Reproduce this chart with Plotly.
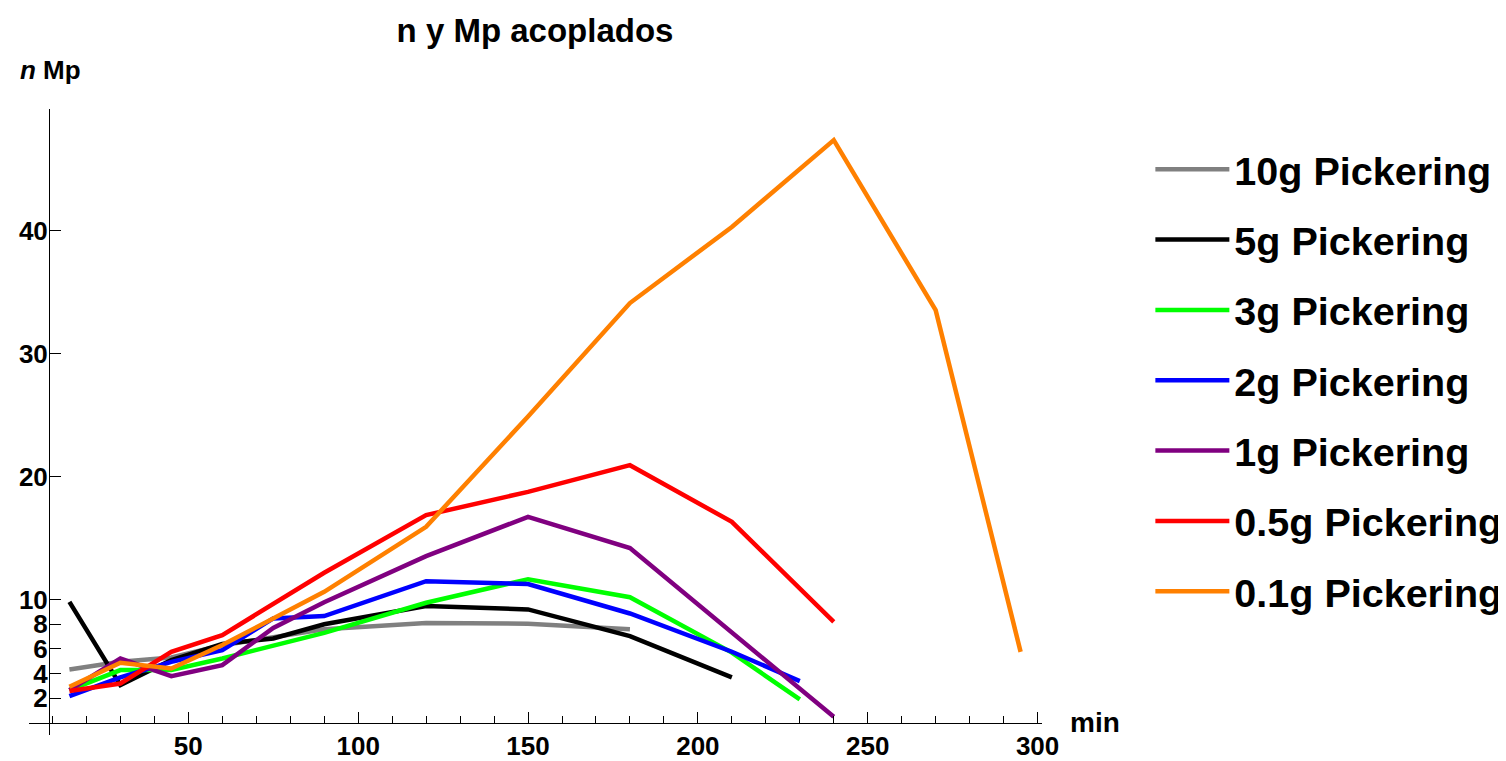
import plotly.graph_objects as go

# ---- data ----
names = ["10g Pickering", "5g Pickering", "3g Pickering", "2g Pickering",
         "1g Pickering", "0.5g Pickering", "0.1g Pickering"]

t_10g = [15, 30, 45, 60, 90, 120, 150, 180]
v_10g = [4.33, 4.95, 5.3, 6.3, 7.6, 8.1, 8.05, 7.6]

t_5g = [15, 30, 45, 60, 75, 90, 120, 150, 180, 210]
v_5g = [9.83, 3.06, 5.1, 6.4, 6.85, 8.0, 9.48, 9.21, 7.04, 3.68]

t_3g = [15, 30, 45, 60, 90, 120, 150, 180, 210, 230]
v_3g = [2.65, 4.28, 4.28, 5.22, 7.3, 9.75, 11.67, 10.2, 5.7, 1.89]

t_2g = [15, 30, 45, 60, 75, 90, 120, 150, 180, 210, 230]
v_2g = [2.16, 3.68, 4.95, 5.9, 8.48, 8.67, 11.51, 11.27, 8.88, 5.77, 3.38]

t_1g = [15, 30, 45, 60, 75, 90, 120, 150, 180, 210, 240]
v_1g = [2.65, 5.22, 3.79, 4.68, 7.7, 9.8, 13.54, 16.74, 14.2, 7.3, 0.48]

t_05g = [15, 30, 45, 60, 90, 120, 150, 180, 210, 240]
v_05g = [2.57, 3.19, 5.77, 7.12, 12.19, 16.88, 18.77, 20.94, 16.33, 8.2]

t_01g = [15, 30, 45, 60, 90, 120, 150, 180, 210, 240, 270, 295]
v_01g = [2.92, 4.87, 4.41, 6.31, 10.64, 15.93, 24.9, 34.12, 40.31, 47.37, 33.54, 5.76]

y_ticks = [2, 4, 6, 8, 10, 20, 30, 40]

series_t = [t_10g, t_5g, t_3g, t_2g, t_1g, t_05g, t_01g]
series_v = [v_10g, v_5g, v_3g, v_2g, v_1g, v_05g, v_01g]

# ---- styles ----
colors = ["#808080", "#000000", "#00ff00", "#0000ff", "#800080", "#ff0000", "#ff8000"]
FONT = "Liberation Sans, Arial, sans-serif"

# the page body adds an 8px offset; size the figure so it fills the window
OFF = 8
W, H = 1506 - OFF, 761 - OFF

fig = go.Figure()
for i, (name, t, v) in enumerate(zip(names, series_t, series_v)):
    fig.add_trace(go.Scatter(
        x=t, y=v, mode="lines", name=name,
        legendgroup=f"g{i}",
        line=dict(color=colors[i], width=4.5),
    ))

X0, X1 = 3.1, 301.3
Y0, Y1 = -1.0, 49.9

# plot area in window pixels
PL, PT, PW, PH = 29.3, 109.0, 1012.4, 626.0


def px_x(px):
    return (px - PL) / PW


def px_y(py):
    return (PT + PH - py) / PH


fig.update_layout(
    width=W, height=H,
    margin=dict(l=PL - OFF, r=W - (PL - OFF) - PW, t=PT - OFF,
                b=H - (PT - OFF) - PH, autoexpand=False),
    paper_bgcolor="white", plot_bgcolor="white",
    font=dict(family=FONT, color="black"),
    showlegend=True,
    legend=dict(
        x=px_x(1150), xanchor="left", y=px_y(137), yanchor="top",
        font=dict(family=FONT, size=39.5, weight="bold", color="black"),
        tracegroupgap=16,
        itemwidth=74,
        bgcolor="rgba(0,0,0,0)",
    ),
    title=dict(
        text="n y Mp acoplados",
        x=(535 - OFF) / W, xref="container", xanchor="center",
        y=1 - (30 - OFF) / H, yref="container", yanchor="middle",
        font=dict(family=FONT, size=33, weight="bold", color="black"),
    ),
    xaxis=dict(
        range=[X0, X1], anchor="free", position=(0 - Y0) / (Y1 - Y0),
        automargin=False,
        showline=True, linecolor="black", linewidth=1,
        showgrid=False, zeroline=False,
        tickmode="linear", tick0=0, dtick=50,
        ticks="inside", ticklen=11, tickwidth=1, tickcolor="black",
        tickfont=dict(family=FONT, size=26, weight="bold", color="black"),
        minor=dict(ticks="inside", ticklen=7, tickwidth=1, tickcolor="black",
                   tick0=0, dtick=10, showgrid=False),
    ),
    yaxis=dict(
        range=[Y0, Y1], anchor="free", position=(9 - X0) / (X1 - X0),
        automargin=False,
        showline=True, linecolor="black", linewidth=1,
        showgrid=False, zeroline=False,
        tickmode="array", tickvals=y_ticks, ticktext=[str(v) for v in y_ticks],
        ticks="inside", ticklen=11, tickwidth=1, tickcolor="black",
        ticklabelstandoff=-4,
        tickfont=dict(family=FONT, size=26, weight="bold", color="black"),
    ),
    annotations=[
        dict(text="<i>n</i> Mp", xref="paper", yref="paper",
             x=px_x(18), y=px_y(70),
             xanchor="left", yanchor="middle", showarrow=False,
             font=dict(family=FONT, size=26, weight="bold", color="black")),
        dict(text="min", xref="paper", yref="paper",
             x=px_x(1068), y=px_y(722),
             xanchor="left", yanchor="middle", showarrow=False,
             font=dict(family=FONT, size=28, weight="bold", color="black")),
    ],
)

fig.write_html("out.html")
